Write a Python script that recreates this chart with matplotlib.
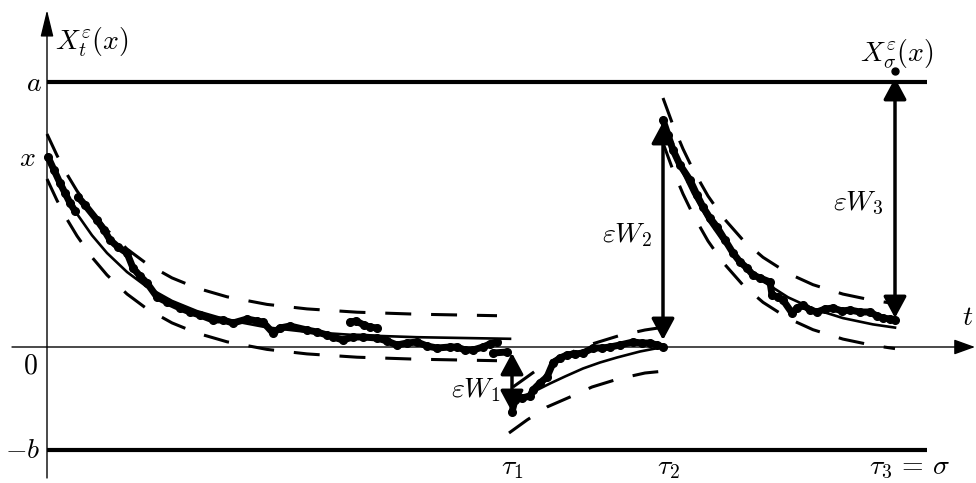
import matplotlib
matplotlib.use("Agg")
import matplotlib.pyplot as plt
from matplotlib.patches import ArrowStyle

plt.rcParams['mathtext.fontset'] = 'cm'
plt.rcParams['font.family'] = ['DejaVu Serif']

# ---------------- data (time t, value y) ----------------
LEVEL_A = 265
LEVEL_B = -103
X0 = 190
TAU = [465, 616, 848]
T_END = 880

# segment 1 : [0, tau1]
seg1_t = [0, 10, 20, 30, 45, 60, 80, 100, 125, 150, 180, 220, 260, 310, 370, 463]
seg1_mean = [190, 168.6, 149.7, 133.1, 111.7, 94.0, 75.0, 60.1, 46.1, 35.9, 27.2, 19.6, 15.1, 11.8, 9.8, 8.2]
seg1_dt = [0, 10, 20, 30, 45, 60, 80, 100, 125, 150, 180, 220, 260, 310, 370, 450]
seg1_upper = [213, 191.6, 172.7, 156.1, 134.7, 117, 98, 83.1, 69.1, 58.9, 50.2, 42.6, 38.1, 34.8, 32.8, 31.3]
seg1_lower = [168, 146.6, 127.7, 111.1, 89.7, 72, 53, 38.1, 24.1, 13.9, 5.2, -2.4, -6.9, -10.2, -12.2, -13.7]

# segment 2 : [tau1, tau2]
seg2_t = [466, 478, 490, 503, 518, 536, 553, 570, 593, 616]
seg2_mean = [-56, -49, -43, -36.5, -29.5, -21.5, -15.5, -10.5, -4.5, 0]
seg2_ut = [466, 480, 498, 513, 525, 545, 571, 598, 618]
seg2_upper = [-40, -30, -17, -10, -5, 3, 11, 17, 20]
seg2_lt = [462, 480, 500, 523, 545, 571, 598, 618]
seg2_lower = [-86, -73, -60, -50, -40, -32, -26, -24]

# segment 3 : [tau2, tau3]
seg3_t = [616, 626, 636, 646, 661, 676, 696, 716, 741, 766, 796, 826, 848]
seg3_mean = [225, 197.8, 174.1, 153.4, 127.0, 105.6, 82.9, 65.7, 49.7, 38.3, 28.9, 22.6, 19.4]
seg3_upper = [249, 221.8, 198.1, 177.4, 151, 129.6, 106.9, 89.7, 73.7, 62.3, 52.9, 46.6, 43.4]
seg3_lower = [204, 176.8, 153.1, 132.4, 106, 84.6, 61.9, 44.7, 28.7, 17.3, 7.9, 1.6, -1.6]

# noisy sample path pieces
pathA_t = [1, 7, 13, 18, 23, 28]
pathA_y = [190, 177, 164, 154, 144, 136]
pathB_t = [31, 38, 50, 57, 63, 71, 80, 86, 93, 100, 110, 120, 133, 143, 153, 166, 176, 186,
           200, 210, 216, 226, 233, 243, 260, 270, 280, 286, 296, 306, 316, 330, 340, 350,
           360, 370, 380, 390, 403, 410, 418, 426, 436, 443, 450]
pathB_y = [150, 142, 127, 117, 107, 100, 94, 79, 71, 64, 50, 45, 39, 35, 32, 27, 27, 24,
           28, 26, 25, 14, 19, 21, 17, 15, 12, 10, 7, 10, 10, 9, 6, 2,
           4, 5, 1, -1, 0, 0, -3, -3, 0, 3, 5]
pathC_t = [303, 309, 317, 323, 330]
pathC_y = [25, 26, 22, 20, 19]
pathD_t = [446, 460]
pathD_y = [-6, -5]
pathE_t = [465, 468, 475, 483, 486, 493, 500, 506, 513, 520, 528, 536, 546, 555, 563, 573,
           586, 595, 603, 610, 616]
pathE_y = [-65, -53, -51, -49, -43, -36, -30, -16, -11, -8, -7, -6, -1, -1, 0, 2,
           5, 4, 4, 2, 0]
pathF_t = [616, 621, 626, 633, 643, 650, 656, 663, 670, 678, 686, 693, 700, 706, 713, 723,
           725, 731, 736, 745, 750, 756, 763, 770, 778, 786, 795, 803, 813, 823, 830, 836,
           843, 848]
pathF_y = [227, 212, 197, 182, 167, 152, 140, 129, 120, 107, 94, 85, 79, 72, 69, 65,
           52, 50, 47, 34, 39, 42, 37, 35, 38, 39, 36, 37, 35, 35, 31, 29,
           28, 27]

# jumps eps*W_k at tau_k
JUMP_LOW = [-65, 7, 29]
JUMP_HIGH = [-6, 225, 269]
JUMP_LABELS = [r'$\varepsilon W_1$', r'$\varepsilon W_2$', r'$\varepsilon W_3$']
JUMP_LABEL_X = [453, 605, 836]
JUMP_LABEL_Y = [-50, 105, 137]
TAU_LABELS = [r'$\tau_1$', r'$\tau_2$', r'$\tau_3 \,=\, \sigma$']
TAU_LABEL_X = [465, 621, 862]
X_SIGMA = 276

# ---------------- drawing ----------------
fig = plt.figure(figsize=(9.76, 4.83), dpi=100)
ax = fig.add_axes([0, 0, 1, 1])
ax.set_xlim(-47, 929)
ax.set_ylim(-136, 347)
ax.axis('off')

FS = 20
K = 'black'

# axes with arrows
ax.annotate('', xy=(928, 0), xytext=(-35, 0),
            arrowprops=dict(arrowstyle=ArrowStyle('-|>', head_length=1.3, head_width=0.47),
                            mutation_scale=10, lw=1.0, color=K, shrinkA=0, shrinkB=0))
ax.annotate('', xy=(0, 337), xytext=(0, -131),
            arrowprops=dict(arrowstyle=ArrowStyle('-|>', head_length=1.65, head_width=0.4),
                            mutation_scale=10, lw=1.0, color=K, shrinkA=0, shrinkB=0))

# barrier levels
ax.plot([0, T_END], [LEVEL_A, LEVEL_A], color=K, lw=3.0, solid_capstyle='butt')
ax.plot([0, T_END], [LEVEL_B, LEVEL_B], color=K, lw=3.0, solid_capstyle='butt')

dash = (0, (8.5, 6.5))
DLW = 2.2
# mean curves and bands
for tt, mm in [(seg1_t, seg1_mean), (seg2_t, seg2_mean), (seg3_t, seg3_mean)]:
    ax.plot(tt, mm, color=K, lw=1.9)
for tt, uu in [(seg1_dt, seg1_upper), (seg1_dt, seg1_lower), (seg2_ut, seg2_upper),
               (seg2_lt, seg2_lower), (seg3_t, seg3_upper), (seg3_t, seg3_lower)]:
    ax.plot(tt, uu, color=K, lw=DLW, linestyle=dash, dash_capstyle='butt')

# noisy path
for tt, yy in [(pathA_t, pathA_y), (pathB_t, pathB_y), (pathC_t, pathC_y),
               (pathD_t, pathD_y), (pathE_t, pathE_y), (pathF_t, pathF_y)]:
    ax.plot(tt, yy, color=K, lw=5.0, solid_capstyle='round', solid_joinstyle='round',
            marker='o', ms=5.5, mec=K, mfc=K)

# jump arrows
for tk, lo, hi in zip(TAU, JUMP_LOW, JUMP_HIGH):
    ax.annotate('', xy=(tk, hi), xytext=(tk, lo),
                arrowprops=dict(arrowstyle=ArrowStyle('<|-|>', head_length=1.3, head_width=0.7),
                                mutation_scale=10, lw=2.5, color=K, shrinkA=0, shrinkB=0))
for lab, lx, ly in zip(JUMP_LABELS, JUMP_LABEL_X, JUMP_LABEL_Y):
    ax.text(lx, ly, lab, fontsize=FS, ha='right', va='baseline')

# end point
ax.plot([TAU[2]], [X_SIGMA], 'o', color=K, ms=5)

# labels
ax.text(8, 297, r'$X_t^{\varepsilon}(x)$', fontsize=FS, ha='left', va='baseline')
ax.text(813, 286, r'$X_{\sigma}^{\varepsilon}(x)$', fontsize=FS, ha='left', va='baseline')
ax.text(-5, 256, r'$a$', fontsize=FS, ha='right', va='baseline')
ax.text(-11, 181, r'$x$', fontsize=FS, ha='right', va='baseline')
ax.text(-9, -26, r'$0$', fontsize=FS, ha='right', va='baseline')
ax.text(-7, -111, r'$-b$', fontsize=FS, ha='right', va='baseline')
ax.text(926, 22, r'$t$', fontsize=FS, ha='right', va='baseline')
for lab, lx in zip(TAU_LABELS, TAU_LABEL_X):
    ax.text(lx, -127, lab, fontsize=FS, ha='center', va='baseline')

fig.savefig('out.png', dpi=100)
